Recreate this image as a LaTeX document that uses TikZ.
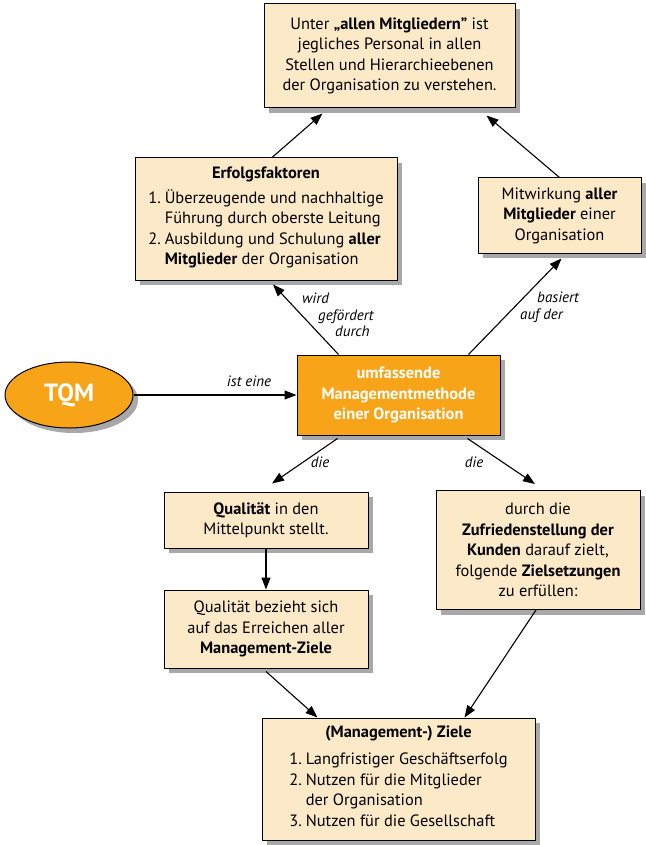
\documentclass[tikz,border=0pt]{standalone}
\usepackage{fontspec}
\setmainfont{PT Sans}
\usetikzlibrary{shadows,arrows.meta,shapes.geometric}
\definecolor{beige}{RGB}{252,233,199}
\definecolor{tqmorange}{RGB}{248,164,24}
\definecolor{shadowgray}{RGB}{168,168,168}
\newcommand{\boxfont}{\fontsize{16.4}{20.5}\selectfont}
\newcommand{\labelfont}{\fontsize{15}{16.2}\selectfont\itshape}
\begin{document}
\begin{tikzpicture}[x=1pt, y=-1pt, line join=round,
  box/.style={draw=black, line width=1pt, fill=beige, align=center, inner sep=0pt,
    font=\boxfont, drop shadow={shadow xshift=5pt, shadow yshift=-5pt, fill=shadowgray, opacity=1}},
  hotbox/.style={box, fill=tqmorange, text=white, font=\boxfont\bfseries},
  pfeil/.style={line width=1.1pt, -{Triangle[length=12pt,width=9pt]}},
  lbl/.style={font=\labelfont, inner sep=0pt}]
  \useasboundingbox (0,0) rectangle (645,845);
  % die Kaesten
  \node[box, minimum width=251, minimum height=104] (allen) at (389.5,56)
    {Unter \textbf{„allen Mitgliedern”} ist\\ jegliches Personal in allen\\
     Stellen und Hierarchieebenen\\ der Organisation zu verstehen.};
  \node[box, minimum width=262, minimum height=122] (erfolg) at (266,219)
    {\textbf{Erfolgsfaktoren}\\[6pt]
     \begin{tabular}{@{}r@{\hspace{4pt}}l@{}}
       1. & Überzeugende und nachhaltige\\
          & Führung durch oberste Leitung\\
       2. & Ausbildung und Schulung \textbf{aller}\\
          & \textbf{Mitglieder} der Organisation
     \end{tabular}};
  \node[box, minimum width=163, minimum height=75] (mitwirk) at (559.5,215.5)
    {Mitwirkung \textbf{aller}\\ \textbf{Mitglieder} einer\\ Organisation};
  \node[hotbox, ellipse, minimum width=128, minimum height=66, font=\fontsize{25}{28}\selectfont\bfseries]
    (tqm) at (69,395) {TQM};
  \node[hotbox, minimum width=203, minimum height=80] (methode) at (398.5,395)
    {umfassende\\ Managementmethode\\ einer Organisation};
  \node[box, minimum width=204, minimum height=56] (qmitte) at (266,520)
    {\textbf{Qualität} in den\\ Mittelpunkt stellt.};
  \node[box, minimum width=204, minimum height=78] (qziele) at (266,629)
    {Qualität bezieht sich\\ auf das Erreichen aller\\ \textbf{Management-Ziele}};
  \node[box, minimum width=204, minimum height=119] (kunden) at (538,550)
    {durch die\\ \textbf{Zufriedenstellung der}\\ \textbf{Kunden} darauf zielt,\\
     folgende \textbf{Zielsetzungen}\\ zu erfüllen:};
  \node[box, minimum width=273, minimum height=122] (mziele) at (398.5,779)
    {\textbf{(Management-) Ziele}\\[8pt]
     \begin{tabular}{@{}r@{\hspace{4pt}}l@{}}
       1. & Langfristiger Geschäftserfolg\\
       2. & Nutzen für die Mitglieder\\
          & der Organisation\\
       3. & Nutzen für die Gesellschaft
     \end{tabular}};
  % die Pfeile
  \draw[pfeil] ([xshift=6pt]erfolg.north) -- ([xshift=-67pt,yshift=-5pt]allen.south);
  \draw[pfeil] (mitwirk.north) -- ([xshift=97pt,yshift=-7pt]allen.south);
  \draw[pfeil] ([xshift=-60pt]methode.north) -- ([xshift=7pt,yshift=-4pt]erfolg.south);
  \draw[pfeil] ([xshift=70pt]methode.north) -- ([xshift=2pt,yshift=-5pt]mitwirk.south);
  \draw[pfeil] (tqm.east) -- (methode.west);
  \draw[pfeil] ([xshift=-61pt,yshift=-3pt]methode.south) -- ([xshift=6pt,yshift=8pt]qmitte.north);
  \draw[pfeil] ([xshift=69pt,yshift=-3pt]methode.south) -- ([xshift=-3pt,yshift=6pt]kunden.north);
  \draw[pfeil] (qmitte.south) -- (qziele.north);
  \draw[pfeil] ([yshift=-3pt]qziele.south) -- ([xshift=-81pt]mziele.north);
  \draw[pfeil] ([xshift=-2pt]kunden.south) -- ([xshift=66pt]mziele.north);
  % Beschriftungen
  \node[lbl] (isteine) at (249,381) {ist eine};
  \node[lbl, anchor=north west, align=left] (wird) at (302,293)
    {wird\\ \hspace*{16pt}gefördert\\ \hspace*{33pt}durch};
  \node[lbl, anchor=north west, align=left] (basiert) at (520,292)
    {\hspace*{17pt}basiert\\ auf der};
  \node[lbl] (die1) at (320,462) {die};
  \node[lbl] (die2) at (474,462) {die};
\end{tikzpicture}
\end{document}
